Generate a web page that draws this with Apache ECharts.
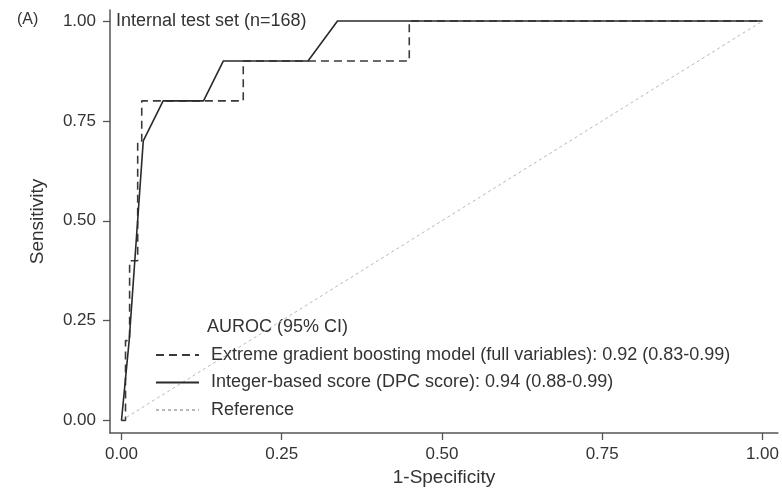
<!DOCTYPE html>
<html>
<head>
<meta charset="utf-8">
<script src="https://cdn.jsdelivr.net/npm/echarts@6/dist/echarts.min.js"></script>
<style>
  html, body { margin: 0; padding: 0; background: #fff; }
  #roc_chart { width: 782px; height: 494px; }
</style>
</head>
<body>
<div id="roc_chart"></div>
<script>
// ROC points (1-specificity, sensitivity)
var xgbFpr = [0, 0.0063, 0.0063, 0.0127, 0.0127, 0.0253, 0.0253, 0.0316, 0.0316, 0.19, 0.19, 0.449, 0.449, 1];
var xgbTpr = [0, 0, 0.2, 0.2, 0.4, 0.4, 0.7, 0.7, 0.8, 0.8, 0.9, 0.9, 1, 1];
var scoreFpr = [0, 0.006, 0.012, 0.034, 0.065, 0.128, 0.159, 0.291, 0.337, 1];
var scoreTpr = [0, 0.1, 0.2, 0.7, 0.8, 0.8, 0.9, 0.9, 1, 1];
var refFpr = [0, 1];
var refTpr = [0, 1];
var tickValues = [0, 0.25, 0.5, 0.75, 1];

var seriesNames = [
    'Extreme gradient boosting model (full variables): 0.92 (0.83-0.99)',
    'Integer-based score (DPC score): 0.94 (0.88-0.99)',
    'Reference'
];

var zip = function (xs, ys) {
    return xs.map(function (x, i) { return [x, ys[i]]; });
};

var fontFamily = '"Liberation Sans", Arial, sans-serif';
var textColor = '#333';
var axisColor = '#555';

var option = {
    animation: false,
    backgroundColor: '#fff',
    textStyle: { fontFamily: fontFamily },
    graphic: [
        { type: 'text', x: 17, y: 20, style: { text: '(A)', fontSize: 16, fill: textColor, fontFamily: fontFamily, verticalAlign: 'middle' } },
        { type: 'text', x: 116, y: 21, style: { text: 'Internal test set (n=168)', fontSize: 18, fill: textColor, fontFamily: fontFamily, verticalAlign: 'middle' } },
        { type: 'text', x: 207, y: 327, style: { text: 'AUROC (95% CI)', fontSize: 18, fill: textColor, fontFamily: fontFamily, verticalAlign: 'middle' } }
    ],
    legend: {
        orient: 'vertical',
        left: 155,
        top: 346,
        padding: 0,
        itemWidth: 43,
        itemHeight: 18,
        itemGap: 9.5,
        itemStyle: { opacity: 0 },
        data: seriesNames,
        textStyle: { fontSize: 18, color: textColor, fontFamily: fontFamily, padding: [0, 0, 0, 7] }
    },
    grid: { left: 110, top: 10, width: 670, height: 423 },
    xAxis: {
        type: 'value',
        min: -0.0179,
        max: 1.0241,
        name: '1-Specificity',
        nameLocation: 'middle',
        nameGap: 35,
        nameTextStyle: { fontSize: 19, color: textColor },
        axisLine: { show: true, onZero: false, lineStyle: { color: axisColor, width: 1.5 } },
        axisTick: { show: true, length: 7, customValues: tickValues, lineStyle: { color: axisColor, width: 1.3 } },
        axisLabel: {
            customValues: tickValues, fontSize: 17, color: textColor, margin: 13,
            formatter: function (v) { return v.toFixed(2); }
        },
        splitLine: { show: false }
    },
    yAxis: {
        type: 'value',
        min: -0.0313,
        max: 1.0276,
        name: 'Sensitivity',
        nameLocation: 'middle',
        nameGap: 63,
        nameTextStyle: { fontSize: 19, color: textColor },
        axisLine: { show: true, onZero: false, lineStyle: { color: axisColor, width: 1.5 } },
        axisTick: { show: true, length: 7, customValues: tickValues, lineStyle: { color: axisColor, width: 1.3 } },
        axisLabel: {
            customValues: tickValues, fontSize: 17, color: textColor, margin: 14,
            formatter: function (v) { return v.toFixed(2); }
        },
        splitLine: { show: false }
    },
    series: [
        {
            name: seriesNames[0],
            type: 'line',
            symbol: 'none',
            data: zip(xgbFpr, xgbTpr),
            itemStyle: { color: '#3a3a3a' },
            lineStyle: { color: '#3a3a3a', width: 1.6, type: [8, 5] }
        },
        {
            name: seriesNames[1],
            type: 'line',
            symbol: 'none',
            data: zip(scoreFpr, scoreTpr),
            itemStyle: { color: '#2a2a2a' },
            lineStyle: { color: '#2a2a2a', width: 1.6 }
        },
        {
            name: seriesNames[2],
            type: 'line',
            symbol: 'none',
            z: 1,
            data: zip(refFpr, refTpr),
            itemStyle: { color: '#b8b8b8' },
            lineStyle: { color: '#b8b8b8', width: 1, type: [3, 3] }
        }
    ]
};

var roc_chart = echarts.init(document.getElementById('roc_chart'));
roc_chart.setOption(option);
</script>
</body>
</html>
